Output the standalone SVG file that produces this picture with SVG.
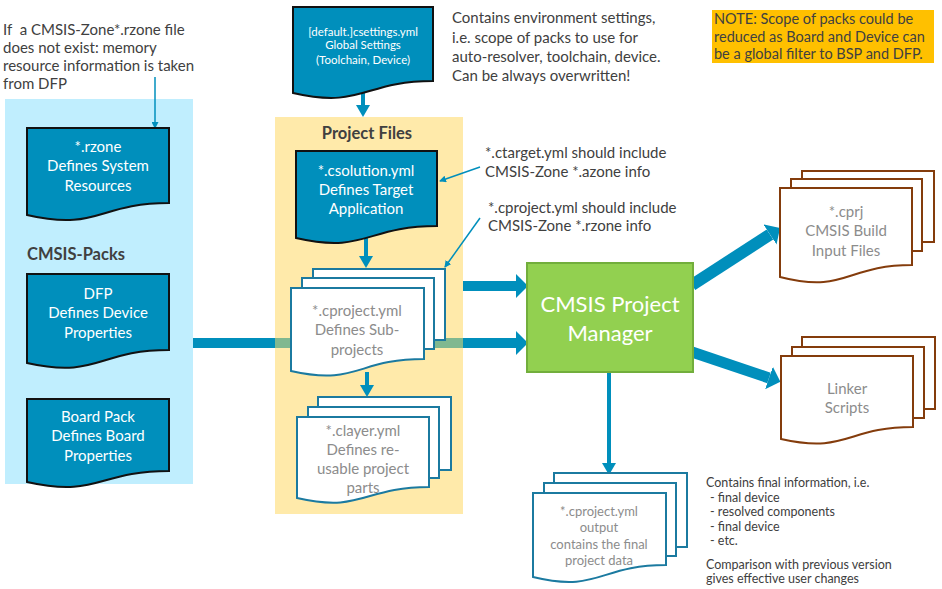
<svg xmlns="http://www.w3.org/2000/svg" width="942" height="589" viewBox="0 0 942 589">
<style>
  text { font-family: Lato, "Open Sans", "Liberation Sans", sans-serif; }
  .note { font-size: 15px; fill: #404040; }
  .small { font-size: 12.5px; fill: #404040; }
  .doc { fill: #008FBC; stroke: #111; stroke-width: 2; }
  .doctxt { font-size: 15px; fill: #fff; text-anchor: middle; }
  .page { fill: #fff; stroke: #1B7AA0; stroke-width: 2; }
  .bpage { fill: #fff; stroke: #843C0C; stroke-width: 2; }
  .gtxt { font-size: 15px; fill: #8C8C8C; text-anchor: middle; }
  .title { font-size: 16.5px; font-weight: bold; fill: #404040; }
  .conn { stroke: #008FBC; fill: none; }
</style>
<defs>
  <marker id="headBig" markerUnits="userSpaceOnUse" markerWidth="12" markerHeight="24" viewBox="0 0 12 24" refX="0" refY="12" orient="auto">
    <path d="M0,0 L12,12 L0,24 Z" fill="#008FBC"/>
  </marker>
  <marker id="headMed" markerUnits="userSpaceOnUse" markerWidth="12" markerHeight="14" viewBox="0 0 12 14" refX="0" refY="7" orient="auto">
    <path d="M0,0 L12,7 L0,14 Z" fill="#008FBC"/>
  </marker>
  <marker id="headThin" markerUnits="userSpaceOnUse" markerWidth="7" markerHeight="7" viewBox="0 0 7 7" refX="6" refY="3.5" orient="auto">
    <path d="M0,0 L7,3.5 L0,7 Z" fill="#008FBC"/>
  </marker>
</defs>

<!-- panels -->
<rect id="packs-panel" x="5" y="99" width="188" height="385" fill="#C0EEFE"/>
<rect id="project-panel" x="275" y="117" width="188" height="397" fill="#FFEAAA"/>

<!-- connectors -->
<g id="connectors">
  <line class="conn" x1="193" y1="343" x2="275" y2="343" stroke-width="10"/>
  <line x1="275" y1="343" x2="463" y2="343" stroke="#80B890" stroke-width="10"/>
  <line class="conn" x1="463" y1="343" x2="516" y2="343" stroke-width="10" marker-end="url(#headBig)"/>
  <line class="conn" x1="463" y1="286" x2="516" y2="286" stroke-width="10" marker-end="url(#headBig)"/>
  <line class="conn" x1="363" y1="93" x2="363" y2="105" stroke-width="4" marker-end="url(#headMed)"/>
  <line class="conn" x1="366" y1="238" x2="366" y2="256" stroke-width="4" marker-end="url(#headMed)"/>
  <line class="conn" x1="367" y1="372" x2="367" y2="385" stroke-width="4" marker-end="url(#headMed)"/>
  <line class="conn" x1="609" y1="372" x2="609" y2="463" stroke-width="4" marker-end="url(#headMed)"/>
  <line class="conn" x1="692" y1="285" x2="770" y2="234.5" stroke-width="12" marker-end="url(#headBig)"/>
  <line class="conn" x1="692" y1="352" x2="769" y2="378" stroke-width="11" marker-end="url(#headBig)"/>
  <line class="conn" x1="155" y1="77" x2="155" y2="128" stroke-width="1.5" marker-end="url(#headThin)"/>
  <line class="conn" x1="480" y1="167" x2="440" y2="181" stroke-width="1.5" marker-end="url(#headThin)"/>
  <line class="conn" x1="480" y1="218" x2="445" y2="267" stroke-width="1.5" marker-end="url(#headThin)"/>
</g>

<!-- texts -->
<g id="note-rzone">
  <text class="note" x="3" y="35" xml:space="preserve">If  a CMSIS-Zone*.rzone file</text>
  <text class="note" x="3" y="53">does not exist: memory</text>
  <text class="note" x="3" y="71">resource information is taken</text>
  <text class="note" x="3" y="89">from DFP</text>
</g>
<g id="note-env">
  <text class="note" x="452" y="23">Contains environment settings,</text>
  <text class="note" x="452" y="43">i.e. scope of packs to use for</text>
  <text class="note" x="452" y="62">auto-resolver, toolchain, device.</text>
  <text class="note" x="452" y="81">Can be always overwritten!</text>
</g>
<g id="note-scope">
  <rect x="712" y="10" width="222" height="53" fill="#FFC000"/>
  <text class="note" x="714" y="24" style="font-size:14.5px">NOTE: Scope of packs could be</text>
  <text class="note" x="714" y="42" style="font-size:14.5px">reduced as Board and Device can</text>
  <text class="note" x="714" y="59" style="font-size:14.5px">be a global filter to BSP and DFP.</text>
</g>
<g id="note-ctarget">
  <text class="note" x="485" y="158">*.ctarget.yml should include</text>
  <text class="note" x="485" y="177">CMSIS-Zone *.azone info</text>
</g>
<g id="note-cproject">
  <text class="note" x="488" y="213">*.cproject.yml should include</text>
  <text class="note" x="488" y="231">CMSIS-Zone *.rzone info</text>
</g>
<g id="note-final">
  <text class="small" x="706" y="487">Contains final information, i.e.</text>
  <text class="small" x="710" y="502">- final device</text>
  <text class="small" x="710" y="516">- resolved components</text>
  <text class="small" x="710" y="531">- final device</text>
  <text class="small" x="710" y="545">- etc.</text>
  <text class="small" x="706" y="569">Comparison with previous version</text>
  <text class="small" x="706" y="583">gives effective user changes</text>
</g>
<text class="title" x="27" y="260">CMSIS-Packs</text>
<text class="title" x="367" y="139" text-anchor="middle">Project Files</text>

<!-- blue documents -->
<g id="rzone">
  <path class="doc" d="M27,128 H169 V203 C98,203 98,231.5 27,215 Z"/>
  <text class="doctxt" x="98" y="152">*.rzone</text>
  <text class="doctxt" x="98" y="171">Defines System</text>
  <text class="doctxt" x="98" y="191">Resources</text>
</g>
<g id="dfp">
  <path class="doc" d="M27,274 H169 V350 C98,350 98,379 27,363 Z"/>
  <text class="doctxt" x="98" y="299">DFP</text>
  <text class="doctxt" x="98" y="318">Defines Device</text>
  <text class="doctxt" x="98" y="338">Properties</text>
</g>
<g id="boardpack">
  <path class="doc" d="M27,399 H169 V471 C98,471 98,498 27,482 Z"/>
  <text class="doctxt" x="98" y="422">Board Pack</text>
  <text class="doctxt" x="98" y="441">Defines Board</text>
  <text class="doctxt" x="98" y="461">Properties</text>
</g>
<g id="csettings">
  <path class="doc" d="M293,7 H433 V81 C363,81 363,109 293,93 Z"/>
  <text class="doctxt" x="363" y="36" style="font-size:11.5px">[default.]csettings.yml</text>
  <text class="doctxt" x="363" y="49" style="font-size:11.5px">Global Settings</text>
  <text class="doctxt" x="363" y="64" style="font-size:11.5px">(Toolchain, Device)</text>
</g>
<g id="csolution">
  <path class="doc" d="M296,151 H437 V226 C366,226 366,254 296,238 Z"/>
  <text class="doctxt" x="366" y="176">*.csolution.yml</text>
  <text class="doctxt" x="366" y="195">Defines Target</text>
  <text class="doctxt" x="366" y="214">Application</text>
</g>

<!-- stacks -->
<g id="cproject">
  <rect class="page" x="313" y="269" width="132" height="71"/>
  <rect class="page" x="302" y="278" width="132" height="71"/>
  <path class="page" d="M291,288 H424 V359 C357,359 357,386 291,371 Z"/>
  <text class="gtxt" x="357" y="316">*.cproject.yml</text>
  <text class="gtxt" x="357" y="335">Defines Sub-</text>
  <text class="gtxt" x="357" y="355">projects</text>
</g>
<g id="clayer">
  <rect class="page" x="318" y="397" width="133" height="73"/>
  <rect class="page" x="308" y="407" width="131" height="71"/>
  <path class="page" d="M297,417 H429 V487 C363,487 363,513 297,498 Z"/>
  <text class="gtxt" x="363" y="436">*.clayer.yml</text>
  <text class="gtxt" x="363" y="455">Defines re-</text>
  <text class="gtxt" x="363" y="474">usable project</text>
  <text class="gtxt" x="363" y="493">parts</text>
</g>
<g id="manager">
  <rect x="527" y="263" width="166" height="109" fill="#92D050" stroke="#72AE3C" stroke-width="2"/>
  <text x="610" y="312" text-anchor="middle" style="font-size:22px" fill="#fff">CMSIS Project</text>
  <text x="610" y="341" text-anchor="middle" style="font-size:22px" fill="#fff">Manager</text>
</g>
<g id="output">
  <rect class="page" x="554" y="473" width="133" height="74"/>
  <rect class="page" x="544" y="483" width="132" height="73"/>
  <path class="page" d="M533,493 H666 V565 C599,565 599,593 533,577 Z"/>
  <text class="gtxt" x="599" y="516" style="font-size:13px">*.cproject.yml</text>
  <text class="gtxt" x="599" y="532" style="font-size:13px">output</text>
  <text class="gtxt" x="599" y="549" style="font-size:13px">contains the final</text>
  <text class="gtxt" x="599" y="565" style="font-size:13px">project data</text>
</g>
<g id="cprj">
  <rect class="bpage" x="802" y="171" width="132" height="71"/>
  <rect class="bpage" x="791" y="179" width="131" height="72"/>
  <path class="bpage" d="M780,188 H912 V265 C846,265 846,294 780,277 Z"/>
  <text class="gtxt" x="846" y="217">*.cprj</text>
  <text class="gtxt" x="846" y="236">CMSIS Build</text>
  <text class="gtxt" x="846" y="256">Input Files</text>
</g>
<g id="linker">
  <rect class="bpage" x="802" y="337" width="133" height="72"/>
  <rect class="bpage" x="792" y="347" width="132" height="71"/>
  <path class="bpage" d="M781,356 H913 V427 C847,427 847,454 781,439 Z"/>
  <text class="gtxt" x="847" y="394">Linker</text>
  <text class="gtxt" x="847" y="413">Scripts</text>
</g>
</svg>
